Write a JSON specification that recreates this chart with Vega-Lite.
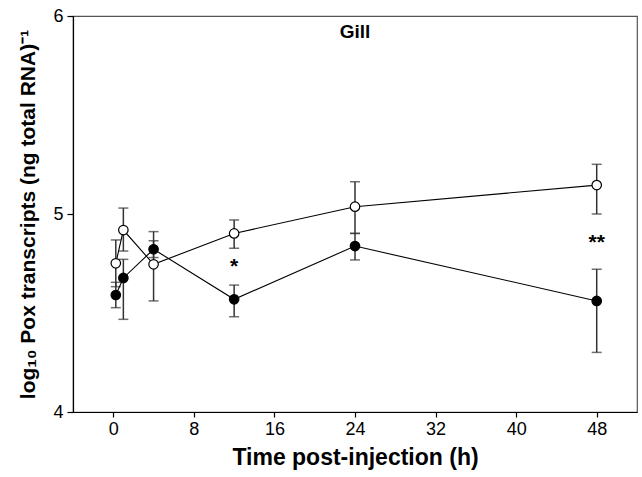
{
  "$schema": "https://vega.github.io/schema/vega-lite/v6.json",
  "autosize": "none",
  "width": 564,
  "height": 396,
  "padding": {"left": 73, "top": 16, "right": 5, "bottom": 65},
  "background": "white",
  "config": {
    "font": "Liberation Sans",
    "view": {"stroke": "#555", "strokeWidth": 1.2},
    "axis": {
      "grid": false,
      "domainColor": "black",
      "domainWidth": 1.2,
      "tickColor": "black",
      "tickWidth": 1.2,
      "labelFont": "Liberation Sans",
      "labelFontSize": 18,
      "labelColor": "black",
      "labelOverlap": false,
      "labelFlush": false,
      "titleFont": "Liberation Sans",
      "titleFontWeight": "bold",
      "titleColor": "black"
    }
  },
  "datasets": {
    "pts": [
      {"t": 0.25, "v": 4.751, "lo": 4.633, "hi": 4.869, "series": "open"},
      {"t": 1, "v": 4.919, "lo": 4.813, "hi": 5.03, "series": "open"},
      {"t": 4, "v": 4.746, "lo": 4.561, "hi": 4.911, "series": "open"},
      {"t": 12, "v": 4.902, "lo": 4.827, "hi": 4.97, "series": "open"},
      {"t": 24, "v": 5.037, "lo": 4.902, "hi": 5.163, "series": "open"},
      {"t": 48, "v": 5.146, "lo": 5.0, "hi": 5.251, "series": "open"},
      {"t": 0.25, "v": 4.591, "lo": 4.527, "hi": 4.655, "series": "filled"},
      {"t": 1, "v": 4.677, "lo": 4.468, "hi": 4.771, "series": "filled"},
      {"t": 4, "v": 4.822, "lo": 4.78, "hi": 4.865, "series": "filled"},
      {"t": 12, "v": 4.569, "lo": 4.481, "hi": 4.641, "series": "filled"},
      {"t": 24, "v": 4.838, "lo": 4.768, "hi": 4.902, "series": "filled"},
      {"t": 48, "v": 4.561, "lo": 4.301, "hi": 4.721, "series": "filled"}
    ],
    "notes": [
      {"t": 12, "v": 4.70, "label": "*"},
      {"t": 48, "v": 4.823, "label": "**"}
    ],
    "panel": [
      {"t": 24, "v": 5.919, "label": "Gill"}
    ]
  },
  "encoding": {
    "x": {
      "field": "t", "type": "quantitative",
      "scale": {"domain": [-4, 52], "nice": false, "zero": false},
      "axis": {"values": [0, 8, 16, 24, 32, 40, 48], "format": ".0f", "tickSize": 5, "labelPadding": 3, "title": "Time post-injection (h)", "titleFontSize": 23, "titlePadding": 8}
    },
    "y": {
      "field": "v", "type": "quantitative",
      "scale": {"domain": [4, 6], "nice": false, "zero": false},
      "axis": {"values": [4, 5, 6], "format": ".0f", "tickSize": 6, "labelPadding": 4, "title": "log₁₀ Pox transcripts (ng total RNA)⁻¹", "titleFontSize": 21, "titlePadding": 14}
    }
  },
  "layer": [
    {
      "data": {"name": "pts"},
      "mark": {"type": "rule", "color": "#333", "strokeWidth": 1.5},
      "encoding": {"y": {"field": "lo", "type": "quantitative"}, "y2": {"field": "hi"}}
    },
    {
      "data": {"name": "pts"},
      "mark": {"type": "tick", "orient": "horizontal", "color": "#333", "size": 10, "thickness": 1.5},
      "encoding": {"y": {"field": "lo", "type": "quantitative"}}
    },
    {
      "data": {"name": "pts"},
      "mark": {"type": "tick", "orient": "horizontal", "color": "#333", "size": 10, "thickness": 1.5},
      "encoding": {"y": {"field": "hi", "type": "quantitative"}}
    },
    {
      "data": {"name": "pts"},
      "mark": {"type": "line", "color": "black", "strokeWidth": 1.1},
      "encoding": {"detail": {"field": "series"}, "order": {"field": "t"}}
    },
    {
      "data": {"name": "pts"},
      "mark": {"type": "point", "shape": "circle", "filled": true, "size": 90, "stroke": "black", "strokeWidth": 1.2, "opacity": 1},
      "encoding": {
        "fill": {"field": "series", "type": "nominal", "scale": {"domain": ["open", "filled"], "range": ["white", "black"]}, "legend": null}
      }
    },
    {
      "data": {"name": "notes"},
      "mark": {"type": "text", "fontSize": 21, "fontWeight": "bold", "baseline": "alphabetic", "align": "center", "color": "black"},
      "encoding": {"text": {"field": "label"}}
    },
    {
      "data": {"name": "panel"},
      "mark": {"type": "text", "fontSize": 19, "fontWeight": "bold", "baseline": "middle", "align": "center", "color": "black"},
      "encoding": {"text": {"field": "label"}}
    }
  ]
}
